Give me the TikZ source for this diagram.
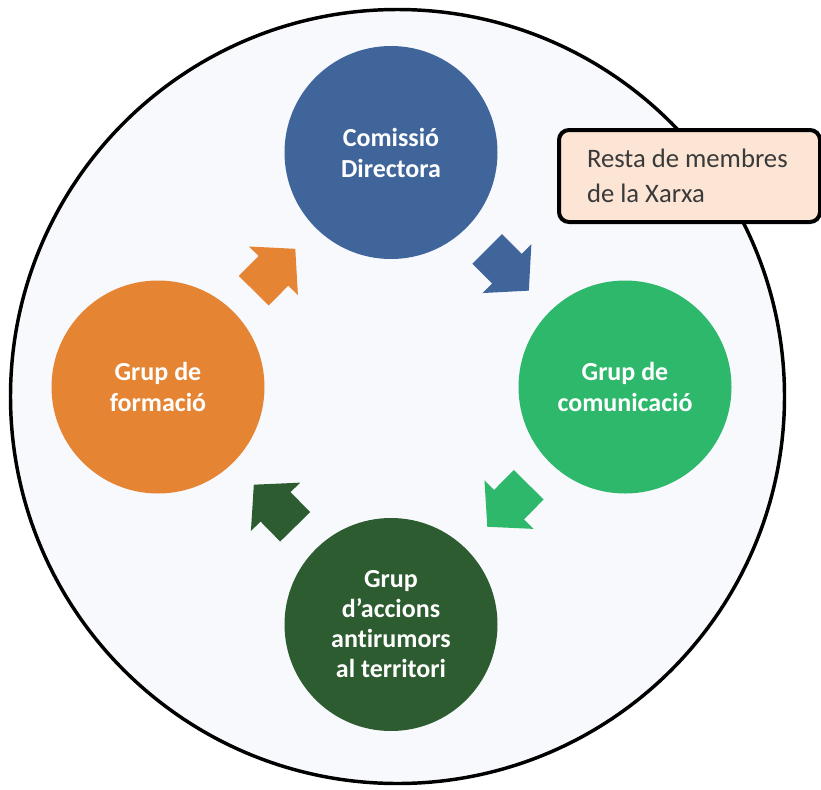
\documentclass[tikz,border=0pt]{standalone}
\usepackage{fontspec}
\setmainfont{Carlito}[Ligatures=NoCommon]
\usetikzlibrary{calc}
\definecolor{cblue}{HTML}{40659B}
\definecolor{cgreen}{HTML}{2EB86C}
\definecolor{corange}{HTML}{E58433}
\definecolor{cdark}{HTML}{2C5C30}
\definecolor{bgfill}{HTML}{F7F9FD}
\definecolor{boxfill}{HTML}{FCE5D5}
\definecolor{boxtext}{HTML}{3A3A3A}
\tikzset{
  grp/.style={circle, minimum size=159.75pt, inner sep=0pt, align=center,
    text=white, font=\bfseries\fontsize{19.5pt}{23.25pt}\selectfont},
  blockarrow/.pic={\fill[#1] (-29.5,-21) -- (-1.5,-21) -- (-1.5,-34.5) -- (29.5,0)
    -- (-1.5,34.5) -- (-1.5,21) -- (-29.5,21) -- cycle;},
  notebox/.style={draw=black, line width=3pt, rounded corners=7.5pt, fill=boxfill,
    text=boxtext, align=flush left, text width=153.75pt, inner xsep=21pt, inner ysep=0pt,
    minimum height=69pt, anchor=north west, font=\fontsize{20pt}{26pt}\selectfont}
}
\begin{document}
\begin{tikzpicture}[x=0.75pt,y=-0.75pt]
\useasboundingbox (0,0) rectangle (821,789);
\node[circle, draw=black, line width=2.6pt, fill=bgfill, minimum size=580.5pt, inner sep=0pt] (outer) at (397.5,396.5) {};
\node[grp, fill=cblue] (blue) at (391,152.5) {Comissió\\Directora};
\node[grp, fill=cgreen] (green) at (625,387) {Grup de\\comunicació};
\node[grp, fill=cdark, font=\bfseries\fontsize{19.5pt}{22.5pt}\selectfont] (dark) at (391,624.5) {Grup\\d’accions\\antirumors\\al territori};
\node[grp, fill=corange] (orange) at (158,387) {Grup de\\formació};
\path let \p1=($(green)-(blue)$), \n1={atan2(\y1,\x1)} in ($(blue)!0.5!(green)$) pic[rotate=\n1] {blockarrow=cblue};
\path let \p1=($(dark)-(green)$), \n1={atan2(\y1,\x1)} in ($(green)!0.5!(dark)$) pic[rotate=\n1] {blockarrow=cgreen};
\path let \p1=($(orange)-(dark)$), \n1={atan2(\y1,\x1)} in ($(dark)!0.5!(orange)$) pic[rotate=\n1] {blockarrow=cdark};
\path let \p1=($(blue)-(orange)$), \n1={atan2(\y1,\x1)} in ($(orange)!0.5!(blue)$) pic[rotate=\n1] {blockarrow=corange};
\node[notebox] (note) at (557,128) {Resta de membres\\de la Xarxa};
\end{tikzpicture}
\end{document}
